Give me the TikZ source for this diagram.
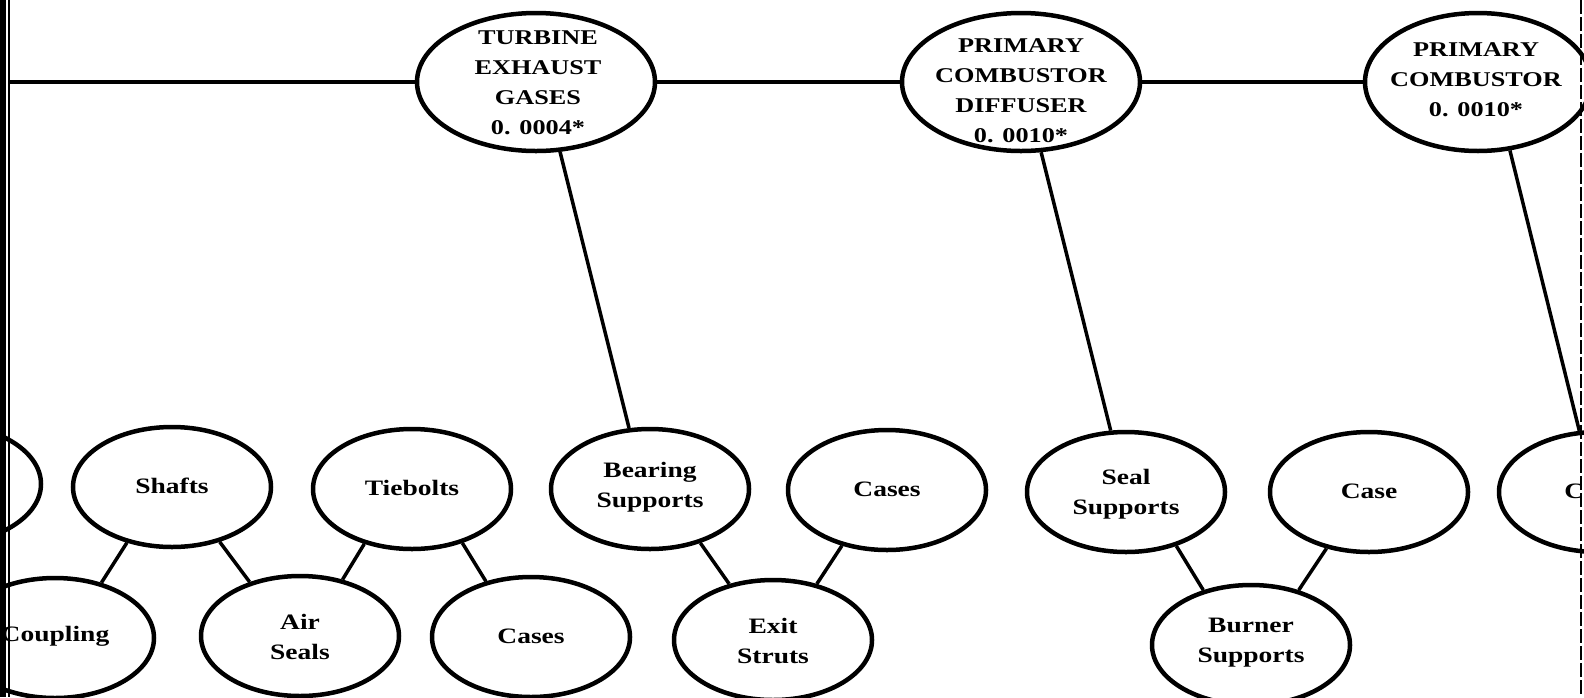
\documentclass[tikz,border=0pt]{standalone}
\usepackage{fontspec}
\setmainfont{Liberation Serif}[FakeStretch=1.25]
\usetikzlibrary{shapes.geometric}
\begin{document}
\begin{tikzpicture}[x=1pt,y=-1pt,
  bubble/.style={ellipse, draw, line width=4.5pt, minimum width=198pt,
    minimum height=120pt, inner sep=0pt},
  topbubble/.style={bubble, minimum width=238pt, minimum height=138pt},
  toptext/.style={align=center, inner sep=0pt,
    font=\bfseries\fontsize{21}{30}\selectfont},
  subtext/.style={align=center, inner sep=0pt,
    font=\bfseries\fontsize{22}{30}\selectfont},
  link/.style={line width=3.5pt},
  rule/.style={line width=4pt},
]
\useasboundingbox (0,0) rectangle (1584,697);
\clip (0,0) rectangle (1584,697);

% page edges
\fill (0,0) rectangle (6,697);
\draw[line width=1.5pt] (9,0) -- (9,697);
\draw[line width=2pt, dash pattern=on 14pt off 3pt] (1581,0) -- (1581,697);

% top level items
\node[topbubble] (teg) at (536,82) {};
\node[toptext] (teg-t) at (538,83) {TURBINE\\EXHAUST\\GASES\\0. 0004*};
\node[topbubble] (pcd) at (1021,82) {};
\node[toptext] (pcd-t) at (1021,91) {PRIMARY\\COMBUSTOR\\DIFFUSER\\0. 0010*};
\node[topbubble, minimum width=226pt] (pc) at (1478,82) {};
\node[toptext] (pc-t) at (1476,80) {PRIMARY\\COMBUSTOR\\0. 0010*};

\coordinate (lstart) at (9,82);
\draw[rule] (lstart) -- (teg.west);
\draw[rule] (teg.east) -- (pcd.west);
\draw[rule] (pcd.east) -- (pc.west);

% component items, upper row
\node[bubble] (lpart) at (-58,484) {};
\node[bubble] (shafts) at (172,487) {};
\node[subtext] (shafts-t) at (172,486) {Shafts};
\node[bubble] (tiebolts) at (412,489) {};
\node[subtext] (tiebolts-t) at (412,488) {Tiebolts};
\node[bubble] (bearing) at (650,489) {};
\node[subtext] (bearing-t) at (650,487) {Bearing\\Supports};
\node[bubble] (cases1) at (887,490) {};
\node[subtext] (cases1-t) at (887,489) {Cases};
\node[bubble] (seal) at (1126,492) {};
\node[subtext] (seal-t) at (1126,494) {Seal\\Supports};
\node[bubble] (case) at (1369,492) {};
\node[subtext] (case-t) at (1369,491) {Case};
\node[bubble] (rpart) at (1598,492) {};
\node[subtext] (rpart-t) at (1598,491) {Cases};

% component items, lower row
\node[bubble] (coupling) at (55,638) {};
\node[subtext] (coupling-t) at (55,636) {Coupling};
\node[bubble] (airseals) at (300,636) {};
\node[subtext] (airseals-t) at (300,637) {Air\\Seals};
\node[bubble] (cases2) at (531,637) {};
\node[subtext] (cases2-t) at (531,636) {Cases};
\node[bubble] (exit) at (773,640) {};
\node[subtext] (exit-t) at (773,641) {Exit\\Struts};
\node[bubble] (burner) at (1251,645) {};
\node[subtext] (burner-t) at (1251,643) {Burner\\Supports};

% long drops from the top items
\draw[link] (teg.-71) -- (bearing.109);
\draw[link] (pcd.-74) -- (seal.104);
\draw[link] (pc.-65) -- (rpart.107);

% short links between rows
\draw[link] (shafts.-129) -- (coupling.50);
\draw[link] (shafts.-49) -- (airseals.133);
\draw[link] (tiebolts.-131) -- (airseals.53);
\draw[link] (tiebolts.-47) -- (cases2.129);
\draw[link] (bearing.-47) -- (exit.128);
\draw[link] (cases1.-129) -- (exit.52);
\draw[link] (seal.-47) -- (burner.131);
\draw[link] (case.-127) -- (burner.49);
\end{tikzpicture}
\end{document}
